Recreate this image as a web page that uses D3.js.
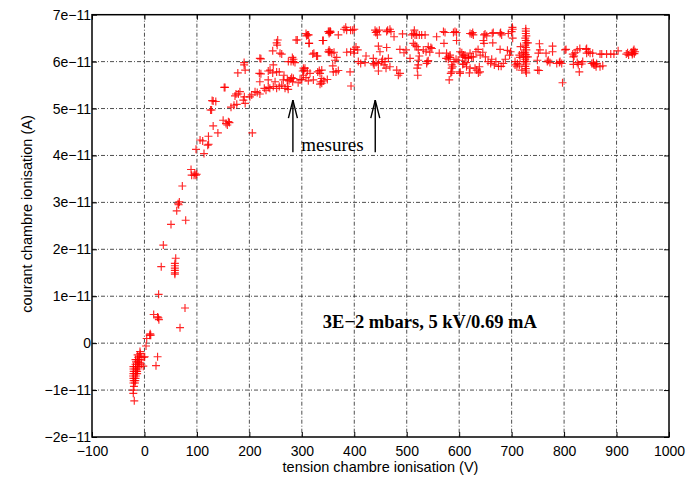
<!DOCTYPE html>
<html lang="fr">
<head>
<meta charset="UTF-8">
<title>courant chambre ionisation</title>
<script src="https://d3js.org/d3.v7.min.js"></script>
<style>
  body { margin: 0; background: #fff; }
</style>
</head>
<body>
<svg width="691" height="481"></svg>
<script>
// tension (V), courant (x 1e-11 A)
const points = [
  [-21,-0.5],[-21,-0.55],[-20.5,-0.6],[-21,-0.65],[-21.5,-0.7],[-21,-0.75],[-20.5,-0.8],[-21,-0.85],[-20,-0.92],[-21.3,-1.0],[-21.3,-1.07],[-19.4,-1.23],
  [-17,-0.35],[-16,-0.4],[-17,-0.45],[-16.5,-0.5],[-17,-0.55],[-16,-0.6],[-17,-0.65],[-16.5,-0.7],[-17,-0.75],[-17.5,-0.8],[-18,-0.85],
  [-13,-0.25],[-12,-0.3],[-13,-0.35],[-12,-0.4],[-13,-0.45],[-12.5,-0.5],[-13,-0.55],[-14,-0.6],[-14,-0.65],
  [-8.5,-0.18],[-8,-0.22],[-9,-0.28],[-9,-0.35],[-10,-0.42],[-10,-0.5],
  [-5,-0.3],[-6,-0.45],[-0.9,-0.3],[-2.2,-0.49],
  [25,-0.29],[22,-0.48],
  [0.5,-0.29],[3,-0.06],[4.3,0.1],[10,0.17],[12,0.17],[11,0.2],[67.8,0.33],[17.6,0.61],[26.5,0.54],[27.5,0.5],[25,0.56],[77.3,0.75],[27,1.04],
  [32,1.63],[58,1.7],[58,1.65],[58,1.6],[58,1.55],[58,1.5],[58,1.47],[59.6,1.81],[36,2.09],[50.6,2.53],[78.6,2.62],
  [61.5,2.82],[65.3,2.95],[66.5,3.01],[64,2.97],[72.2,3.35],[88.8,3.7],[94.5,3.58],[98,3.58],[90,3.58],[99.6,3.6],[96,3.62],
  [113.5,4.04],[98.3,4.13],[120.6,4.22],[122.3,4.24],[106,4.33],[111,4.31],[122,4.41],[140,4.48],[131,4.63],[155.5,4.68],[158,4.65],[150,4.75],[126,4.97],[128,4.97],[205.6,4.48],
  [162,4.7],[160,4.72],
  [131,5.16],[136,5.15],[129,5.17],[152,5.45],[153.6,5.45],[165,5.03],[170.7,5.07],[176,5.09],[172.6,5.27],[179,5.31],[182,5.36],[174.5,5.31],[178,5.76],[190,5.98],[190,5.93],[192,5.82],[188.5,5.18],[190.4,5.25],[192,5.11],[201,5.25],[204.5,5.29],[210.8,5.36],[215,5.34],[220,5.31],[219,5.75],[222,5.74],[220,5.57],[222,6.06],[220,6.07],
  [228.5,5.43],[231.7,5.39],[236,5.45],[239,5.43],[236,5.8],[244.5,5.76],[239.4,5.82],[236,5.61],
  [245.6,5.47],[249,5.57],[252,5.43],[257,5.47],[261.7,5.5],[264.7,5.61],[268,5.43],[272.4,5.47],
  [244.5,6.23],[252,6.4],[253,6.35],[254,6.46],[261.7,6.16],[258.4,6.18],[245.6,5.93],[252,5.78],[257,5.78],[266,5.71],
  [275.6,5.59],[279,5.63],[282.6,5.57],[284,5.64],[272.4,5.61],[280.7,5.66],
  [274.3,6.0],[279.4,6.0],[282,6.09],[284,6.05],[287,5.98],[283.8,6.0],
  [289,6.46],[291.4,6.46],[274,5.41],[293,5.55],[296.6,5.61],
  [299.8,5.62],[303,5.71],[308,5.66],[312.4,5.59],[304,5.82],[306,5.86],[303,5.86],[315.6,5.75],[310.5,5.8],[301.7,5.8],
  [309,6.55],[308,6.6],[314,6.39],[313,6.57],[311,6.57],[313.7,6.39],[320.8,6.16],[328,6.12],[323,6.18],[330,6.12],
  [330.3,5.78],[334.7,5.75],[338,5.82],[333.3,5.81],[336,5.57],[338,5.54],[342,5.59],[322,5.61],[334.7,5.52],[338,5.64],
  [339.7,6.45],[341,6.45],[352,6.64],[350.5,6.64],[352,6.2],[352,6.25],[350.5,6.21],
  [353.8,6.62],[352,6.6],[354,6.65],[355,6.63],[369.6,6.57],
  [380.5,6.69],[385.5,6.67],[393,6.67],[397,6.67],[400,6.69],[383.7,6.73],
  [353.8,6.21],[357,6.18],[361.4,6.2],[366.5,6.09],[363.3,6.03],
  [385.6,6.2],[393,6.21],[399.5,6.26],[403.3,6.31],[399.5,6.18],[406.6,6.25],
  [359,5.91],[365.2,5.78],[369.6,5.81],[360,5.78],[392,5.78],[393.8,5.48],[348.6,5.62],
  [407.7,6.0],[412.2,5.96],[420.5,5.98],[422.4,6.12],
  [436.3,6.07],[438,5.93],[441.5,5.98],[436.3,5.96],[446,5.8],[446,5.96],
  [452.3,6.0],[454,6.05],[456.7,5.93],[458.6,6.0],[465,6.07],[460.5,5.86],[468,5.89],
  [446,6.33],[449,6.21],[443,6.64],[439.6,6.67],[447.8,6.67],[444,6.57],[441,6.62],
  [461.7,6.3],[463.6,6.67],[468,6.69],[470,6.64],[461.7,6.64],[475.8,6.53],
  [480.9,5.82],[487.2,5.75],[484,5.71],[492,6.59],[498.6,6.25],[494.8,6.19],[487,6.26],[506.3,6.07],
  [512.6,6.6],[515.8,6.57],[519,6.57],[509.5,6.57],[514.5,6.67],[524,6.57],[528.5,6.57],[535,6.57],
  [515.8,6.35],[519,6.32],[512.6,6.39],[522,6.25],[524,6.12],[522,6.03],[522,5.93],[520,5.86],
  [531.6,6.25],[536.8,6.21],[541,6.32],[539,6.0],[538,5.96],[541,6.02],[521,5.71],
  [544,6.2],[548,6.28],[546,6.3],[557,6.53],[562,6.18],[570,6.64],[573,6.62],[571,6.39],
  [576,6.18],[579.3,6.1],[579.3,6.05],[582.6,6.09],[575,6.07],[582.6,6.14],
  [585.8,5.93],[585.8,5.86],[585.8,5.78],[584,5.75],[587.7,5.89],[581,5.61],
  [589,6.62],[595,6.62],[592,6.64],[595,6.45],[590,6.0],[598,6.03],[594,6.05],
  [606.6,6.1],[611,6.14],[605,6.19],[617.5,6.07],[601.6,5.75],[609,5.95],[614,5.89],
  [624,6.59],[620.7,6.6],[627,6.57],[625.8,6.62],[649.3,6.59],[647.4,6.57],[652.5,6.55],
  [663,6.6],[665,6.62],[679,6.62],[681,6.57],[678,6.6],[693.7,6.6],[700,6.64],[702,6.69],[701.5,6.73],[702,6.5],
  [601.6,6.21],[608,6.14],[611,6.09],[617.4,6.09],[623.8,6.1],[627,6.1],[620.7,6.18],
  [606.6,5.94],[613,5.98],[620.7,5.86],[630.2,5.86],[633.4,5.82],[639.7,5.78],[638.4,5.89],[601.6,5.78],[619.4,5.76],[636.6,5.76],
  [646,6.45],[647.4,6.39],[664,6.4],[678,6.26],
  [632,6.21],[636,6.26],[640,6.14],[645,6.2],[650,6.1],[655,6.0],[660,5.96],[662,6.05],[667,5.93],[670,6.0],[675,5.9],[680,5.9],[684,5.96],[688,6.05],[696,6.14],[692,6.24],[698,6.21],
  [706.5,6.0],[711,5.96],[714.7,5.93],[706.5,5.93],[710,5.89],[719.4,5.82],[749.6,5.82],
  [727,6.7],[727,6.65],[727,6.6],[728,6.55],[726,6.5],[727,6.45],[728,6.4],[726,6.35],[727,6.3],[728,6.25],[726,6.2],[727,6.15],[728,6.1],[726,6.05],[727,6.0],[728,5.95],[726,5.9],[727,5.85],[727,5.8],[728,5.76],[731,6.1],[723,6.2],[731,6.4],[723,6.0],
  [717,6.32],[719.4,6.18],[714.7,6.14],[716,6.09],[722.4,6.1],
  [751,6.18],[753,6.38],[754,6.25],[749,6.03],[752.3,5.81],
  [765.6,6.18],[768,6.0],[773,5.98],[770,6.03],[778,6.33],[778,6.21],
  [791,5.98],[795.5,5.96],[792.3,6.0],[786,5.96],[797,5.55],[801.8,6.25],[803.7,6.26],
  [816.5,6.16],[819,6.12],[821,6.19],[817.7,6.1],[825,6.25],[830,6.28],
  [817.7,5.94],[825,5.98],[827,5.94],[829,5.78],[835.5,6.0],[833.6,5.95],
  [843,6.28],[841.8,6.26],[846.3,6.21],[843,6.18],[854.5,6.18],
  [855.8,5.96],[859,5.93],[861,5.89],[855.8,5.98],[868.5,5.89],[873.7,5.91],
  [868.5,6.16],[881,6.16],[849.5,6.18],[871.8,6.16],[889,6.16],[895,6.16],[903,6.23],
  [852.7,5.96],[857,5.93],[862,5.96],
  [918.6,6.16],[923,6.14],[921,6.19],[929,6.2],[932,6.23],[935.3,6.21],[931,6.18],[933.3,6.26],[930,6.15],[934,6.17]
];

const xTicks = [-100, 0, 100, 200, 300, 400, 500, 600, 700, 800, 900, 1000];
const yTicks = [-2e-11, -1e-11, 0, 1e-11, 2e-11, 3e-11, 4e-11, 5e-11, 6e-11, 7e-11];
const yTickLabels = ["\u22122e\u221211", "\u22121e\u221211", "0", "1e\u221211", "2e\u221211",
                     "3e\u221211", "4e\u221211", "5e\u221211", "6e\u221211", "7e\u221211"];
// annotation arrows ("mesures"), tension values
const arrowX = [283, 440];

const sans = "'Liberation Sans', Arial, sans-serif";
const serif = "'Liberation Serif', 'Times New Roman', serif";

const margin = {top: 14.7, right: 22, bottom: 44, left: 92},
    width = 691 - margin.left - margin.right,
    height = 481 - margin.top - margin.bottom;

const svg = d3.select("svg")
    .append("g")
    .attr("transform", `translate(${margin.left},${margin.top})`);

const x = d3.scaleLinear().domain([-100, 1000]).range([0, width]);
const y = d3.scaleLinear().domain([-2e-11, 7e-11]).range([height, 0]);

// grid, dash-dot
const grid = svg.append("g")
    .attr("stroke", "#222")
    .attr("stroke-width", 0.8)
    .attr("stroke-dasharray", "4,2,1,2");
grid.selectAll("line.vx")
    .data(xTicks.slice(1, -1))
    .enter().append("line")
    .attr("x1", d => x(d)).attr("x2", d => x(d))
    .attr("y1", 0).attr("y2", height);
grid.selectAll("line.hy")
    .data(yTicks.slice(1, -1))
    .enter().append("line")
    .attr("x1", 0).attr("x2", width)
    .attr("y1", d => y(d)).attr("y2", d => y(d));

// axes (ticks inward)
svg.append("g")
    .attr("transform", `translate(0,${height})`)
    .call(d3.axisBottom(x).tickValues(xTicks).tickFormat(d3.format("d"))
        .tickSizeInner(-5).tickSizeOuter(0).tickPadding(9))
    .call(g => g.select(".domain").remove());
svg.append("g")
    .call(d3.axisLeft(y).tickValues(yTicks).tickFormat((d, i) => yTickLabels[i])
        .tickSizeInner(-5).tickSizeOuter(0).tickPadding(1))
    .call(g => g.select(".domain").remove());
svg.append("g")
    .call(d3.axisTop(x).tickValues(xTicks).tickSizeInner(-5).tickSizeOuter(0).tickFormat(""))
    .call(g => g.select(".domain").remove());
svg.append("g")
    .attr("transform", `translate(${width},0)`)
    .call(d3.axisRight(y).tickValues(yTicks).tickSizeInner(-5).tickSizeOuter(0).tickFormat(""))
    .call(g => g.select(".domain").remove());

svg.selectAll(".tick text")
    .style("font-size", "14px")
    .style("font-family", sans)
    .attr("fill", "#000");
svg.selectAll(".tick line").attr("stroke", "#000");

svg.append("rect")
    .attr("width", width).attr("height", height)
    .attr("fill", "none").attr("stroke", "#000").attr("stroke-width", 1.5);

// data markers "+"
const s = 4;
svg.append("g")
    .attr("stroke", "#ff0000")
    .attr("stroke-width", 1.15)
    .attr("stroke-opacity", 0.85)
    .selectAll("path")
    .data(points)
    .enter().append("path")
    .attr("d", d => {
        const px = x(d[0]), py = y(d[1] * 1e-11);
        return `M${px - s},${py}H${px + s}M${px},${py - s}V${py + s}`;
    });

// annotation
const tipY = y(5.18e-11), baseY = y(4.07e-11);
svg.selectAll("line.arrow")
    .data(arrowX)
    .enter().append("line")
    .attr("x1", d => x(d)).attr("x2", d => x(d))
    .attr("y1", baseY).attr("y2", tipY)
    .attr("stroke", "#000").attr("stroke-width", 1.4);
svg.selectAll("path.head")
    .data(arrowX)
    .enter().append("path")
    .attr("d", d => `M${x(d) - 4.5},${tipY + 18}L${x(d)},${tipY}L${x(d) + 4.5},${tipY + 18}`)
    .attr("fill", "none").attr("stroke", "#000").attr("stroke-width", 1.4);
svg.append("text")
    .attr("x", x(299)).attr("y", baseY - 1)
    .style("font-family", serif)
    .style("font-size", "19px")
    .text("mesures");

svg.append("text")
    .attr("x", x(340)).attr("y", y(0.35e-11) + 1)
    .style("font-family", serif)
    .style("font-weight", "bold")
    .style("font-size", "18.5px")
    .text("3E\u22122 mbars, 5 kV/0.69 mA");

// axis titles
svg.append("text")
    .attr("x", width / 2).attr("y", height + 35)
    .attr("text-anchor", "middle")
    .style("font-family", sans)
    .style("font-size", "14.5px")
    .text("tension chambre ionisation (V)");
svg.append("text")
    .attr("transform", `translate(${32 - margin.left},${214 - margin.top}) rotate(-90)`)
    .attr("text-anchor", "middle")
    .style("font-family", sans)
    .style("font-size", "14.5px")
    .text("courant chambre ionisation (A)");
</script>
</body>
</html>
